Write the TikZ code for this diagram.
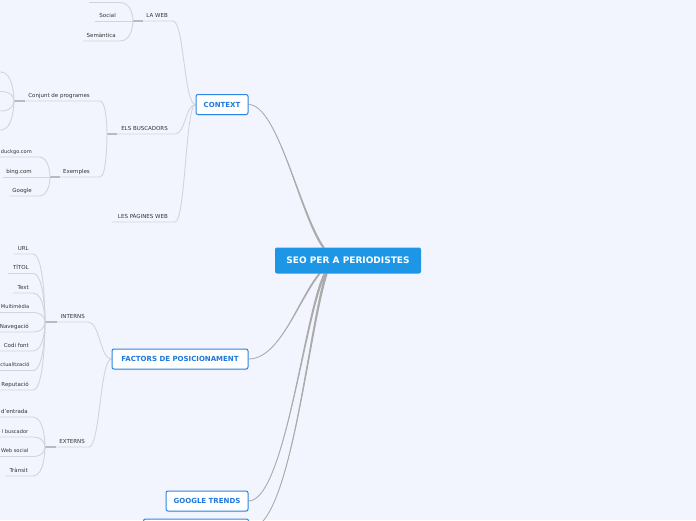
\documentclass[tikz,border=0pt]{standalone}
\usepackage{fontspec}
\setmainfont{DejaVu Sans}
\usetikzlibrary{calc,backgrounds,shadows}
\definecolor{bgc}{HTML}{F2F5FD}
\definecolor{subl}{HTML}{D2D4DC}
\definecolor{stubl}{HTML}{B8BAC1}
\definecolor{mainl}{HTML}{ABABAB}
\definecolor{lbl}{HTML}{333333}
\definecolor{mtxt}{HTML}{1E78DC}
\definecolor{mbord}{HTML}{2D86E6}
\definecolor{rootf}{HTML}{1E96E6}
\tikzset{
  lab/.style={font=\fontsize{5.5}{6}\selectfont, text=lbl, inner sep=0pt, anchor=base east},
  edgelab/.style={lab, font=\fontsize{5.1}{6}\selectfont},
  topic/.style={draw=mbord, line width=1pt, fill=white, rounded corners=2pt, text=mtxt,
    font=\bfseries\fontsize{7}{8}\selectfont, inner sep=0pt, minimum height=20pt,
    drop shadow={shadow xshift=0.4pt, shadow yshift=-1pt, opacity=0.15}},
  rootbox/.style={fill=rootf, rounded corners=2pt, text=white,
    font=\bfseries\fontsize{9}{10}\selectfont, minimum width=146pt, minimum height=26pt, inner sep=0pt},
  sub/.style={draw=subl, line width=0.9pt},
  stub/.style={draw=stubl, line width=1.6pt},
  conn/.style={draw=mainl, line width=0.8pt},
  taper/.style={fill=mainl}
}
\begin{document}
\begin{tikzpicture}[x=1pt,y=-1pt]
\useasboundingbox (0,0) rectangle (696,520);

% ---------- main nodes ----------
\node[rootbox] (root) at (348,260.5) {SEO PER A PERIODISTES};
\node[topic, minimum width=52pt] (ctx) at (222,104.5) {CONTEXT};
\node[topic, minimum width=136pt] (fac) at (180,359) {FACTORS DE POSICIONAMENT};
\node[topic, minimum width=82pt] (gt) at (207,501) {GOOGLE TRENDS};
\node[topic, minimum width=105pt] (cut) at (196,529) {};

% root attach points
\coordinate (rtA) at (323.5,247.5);
\coordinate (rtA1) at (322.2,247.5);
\coordinate (rtA2) at (324.8,247.5);
\coordinate (rfB) at (319.5,273.5);
\coordinate (rfB1) at (318.5,273.5);
\coordinate (rfB2) at (320.8,273.5);
\coordinate (rgB) at (325,273.5);
\coordinate (rgB1) at (323.8,273.5);
\coordinate (rgB2) at (326.4,273.5);
\coordinate (rcB) at (326.5,273.5);
\coordinate (rcB1) at (325.2,273.5);
\coordinate (rcB2) at (327.8,273.5);

% junction points
\coordinate (ctxJ) at (195.5,104.5);
\coordinate (facJ) at (111.5,359);
\coordinate (lwJ) at (133,21);
\coordinate (ebJ) at (107,134);
\coordinate (cpJ) at (14,101);
\coordinate (exJ) at (50,177);
\coordinate (inJ) at (45,322);
\coordinate (exsJ) at (45,447);

% ---------- labels ----------
\node[lab] (laweb) at (168,17) {LA WEB};
\node[lab] (social) at (116,17) {Social};
\node[lab] (seman) at (116,37) {Semàntica};
\node[lab] (elsb) at (168,130) {ELS BUSCADORS};
\node[lab] (conj) at (90,97) {Conjunt de programes};
\node[lab] (exem) at (90,173) {Exemples};
\node[edgelab] (duck) at (32,153) {duckgo.com};
\node[lab] (bing) at (32,173) {bing.com};
\node[lab] (goog) at (32,192) {Google};
\node[lab] (lpw) at (168,218) {LES PÀGINES WEB};
\node[lab] (intr) at (85,318) {INTERNS};
\node[lab] (extr) at (85,443) {EXTERNS};

\begin{pgfonlayer}{background}
\fill[bgc] (0,0) rectangle (696,520);

% ---------- main connectors (tapered) ----------
\fill[taper] (ctx.east) .. controls (278,104.5) and (299,215) .. (rtA1) -- (rtA2) .. controls (301,215) and (278,104.5) .. (ctx.east) -- cycle;
\draw[conn] (ctx.east) .. controls (278,104.5) and (300,215) .. (rtA);

\fill[taper] (fac.east) .. controls (280,359) and (297,300) .. (rfB1) -- (rfB2) .. controls (299,300) and (280,359) .. (fac.east) -- cycle;
\draw[conn] (fac.east) .. controls (280,359) and (298,300) .. (rfB);

\fill[taper] (gt.east) .. controls (285,501) and (304,310) .. (rgB1) -- (rgB2) .. controls (306,310) and (285,501) .. (gt.east) -- cycle;
\draw[conn] (gt.east) .. controls (285,501) and (305,310) .. (rgB);

\fill[taper] (cut.east) .. controls (291,529) and (307,330) .. (rcB1) -- (rcB2) .. controls (309,330) and (291,529) .. (cut.east) -- cycle;
\draw[conn] (cut.east) .. controls (291,529) and (308,330) .. (rcB);

% ---------- CONTEXT branch ----------
\draw[sub] (143,21) -- (173,21) .. controls (184,21) and (184,104.5) .. (ctxJ);
\draw[stub] (lwJ) -- (143,21);
\draw[sub] (117,134) -- (175,134) .. controls (185.5,134) and (185.5,104.5) .. (ctxJ);
\draw[stub] (ebJ) -- (117,134);
\draw[sub] (112,222) -- (175,222) .. controls (185.5,222) and (185.5,104.5) .. (ctxJ);

% LA WEB children
\draw[sub] (89,2.5) -- (120,2.5) .. controls (133,2.5) and (133,21) .. (lwJ);
\draw[sub] (95,21) -- (lwJ);
\draw[sub] (83,41) -- (120,41) .. controls (133,41) and (133,21) .. (lwJ);

% ELS BUSCADORS children
\draw[sub] (25,101) -- (100,101) .. controls (107,101) and (107,134) .. (ebJ);
\draw[stub] (cpJ) -- (25,101);
\draw[sub] (60,177) -- (100,177) .. controls (107,177) and (107,134) .. (ebJ);
\draw[stub] (exJ) -- (60,177);

% Conjunt de programes children (texts outside the picture)
\foreach \yy in {72,91.5,111,130} {
  \draw[sub] (-6,\yy) -- (1,\yy) .. controls (14,\yy) and (14,101) .. (cpJ);
}

% Exemples children
\draw[sub] (-2,157) -- (39,157) .. controls (50,157) and (50,177) .. (exJ);
\draw[sub] (3,177) -- (exJ);
\draw[sub] (9,196) -- (39,196) .. controls (50,196) and (50,177) .. (exJ);

% ---------- FACTORS branch ----------
\draw[sub] (57,322) -- (88,322) .. controls (100,322) and (100,359) .. (facJ);
\draw[stub] (inJ) -- (57,322);
\draw[sub] (56,447) -- (89,447) .. controls (100,447) and (100,359) .. (facJ);
\draw[stub] (exsJ) -- (56,447);

\foreach \yy/\xl in {254/14, 273.5/8, 293/13, 312.5/-2, 332/-2, 351/0, 370.5/-2, 390/-2} {
  \draw[sub] (\xl,\yy) -- (33,\yy) .. controls (45,\yy) and (45,322) .. (inJ);
}
\foreach \yy/\xl in {417/-2, 437/-2, 456.5/-2, 476/5} {
  \draw[sub] (\xl,\yy) -- (33,\yy) .. controls (45,\yy) and (45,447) .. (exsJ);
}
\end{pgfonlayer}

% INTERNS child labels
\node[lab] (int1) at (29,250) {URL};
\node[lab] (int2) at (29,269.5) {TÍTOL};
\node[lab] (int3) at (29,289) {Text};
\node[edgelab] (int4) at (29.5,308.5) {Multimèdia};
\node[lab] (int5) at (29,328) {Navegació};
\node[lab] (int6) at (29,347) {Codi font};
\node[edgelab] (int7) at (29.8,366.5) {ctualització};
\node[lab] (int8) at (29,386) {Reputació};
% EXTERNS child labels
\node[lab] (ext1) at (28,413) {d'entrada};
\node[edgelab] (ext2) at (28.5,433) {l buscador};
\node[edgelab] (ext3) at (28.5,452.5) {Web social};
\node[lab] (ext4) at (28,472) {Trànsit};
\end{tikzpicture}
\end{document}
